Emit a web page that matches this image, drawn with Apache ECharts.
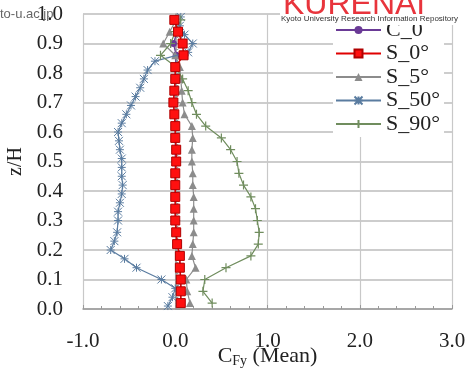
<!DOCTYPE html>
<html>
<head>
<meta charset="utf-8">
<script src="https://cdn.jsdelivr.net/npm/echarts@6/dist/echarts.min.js"></script>
<style>
  html, body { margin: 0; padding: 0; background: #fff; }
  #chart { width: 470px; height: 373px; }
</style>
</head>
<body>
<div id="chart"></div>
<script>
// Heights (z/H) shared by C_0, S_0°, S_5° and S_90° profiles
const zMain = [0.02, 0.06, 0.10, 0.14, 0.18, 0.22, 0.26, 0.30, 0.34, 0.38, 0.42, 0.46, 0.50,
               0.54, 0.58, 0.62, 0.66, 0.70, 0.74, 0.78, 0.82, 0.86, 0.90, 0.94, 0.98];
const cfyC0  = [0.06, 0.06, 0.06, 0.05, 0.05, 0.02, 0.01, 0.00, 0.00, 0.00, 0.00, 0.00, 0.00,
                0.00, 0.00, 0.00, -0.01, -0.02, -0.01, 0.00, 0.00, 0.01, -0.02, 0.02, 0.00];
const cfyS0  = [0.06, 0.06, 0.06, 0.05, 0.05, 0.02, 0.01, 0.00, 0.00, 0.00, 0.00, 0.00, 0.01,
                0.01, 0.00, 0.00, -0.01, -0.02, -0.01, 0.00, 0.00, 0.09, 0.08, 0.03, -0.01];
const cfyS5  = [0.16, 0.13, 0.12, 0.22, 0.18, 0.19, 0.20, 0.20, 0.20, 0.20, 0.19, 0.19, 0.18,
                0.18, 0.19, 0.18, 0.10, 0.08, 0.07, 0.06, 0.05, 0.00, -0.13, -0.06, 0.01];
const cfyS90 = [0.40, 0.30, 0.32, 0.55, 0.82, 0.90, 0.91, 0.89, 0.87, 0.82, 0.74, 0.69, 0.67,
                0.60, 0.50, 0.33, 0.23, 0.18, 0.14, 0.08, 0.01, -0.16, -0.05, 0.00, 0.06];
// S_50° profile is sampled more finely
const zS50   = [0.01, 0.04, 0.07, 0.10, 0.14, 0.17, 0.20, 0.23, 0.26, 0.30, 0.33, 0.36, 0.39,
                0.42, 0.45, 0.48, 0.51, 0.54, 0.57, 0.60, 0.63, 0.66, 0.69, 0.72, 0.75, 0.78,
                0.81, 0.84, 0.87, 0.90, 0.93, 0.96, 0.99];
const cfyS50 = [-0.08, -0.03, 0.00, -0.15, -0.42, -0.55, -0.70, -0.66, -0.63, -0.62, -0.62, -0.60, -0.58,
                -0.57, -0.58, -0.58, -0.58, -0.60, -0.61, -0.62, -0.58, -0.53, -0.48, -0.43, -0.38, -0.34,
                -0.30, -0.22, 0.14, 0.19, 0.10, 0.05, 0.06];

const seriesNames = ['C_0', 'S_0°', 'S_5°', 'S_50°', 'S_90°'];
const xTicks = [-1, 0, 1, 2, 3];

const pair = (xs, zs) => xs.map((v, i) => [v, zs[i]]);
const serif = 'Liberation Serif';

const starPath = 'path://M0,0L10,10M10,0L0,10M5,0L5,10M0,5L10,5';
const plusPath = 'path://M5,0L5,10M0,5L10,5';

const chart = echarts.init(document.getElementById('chart'), null, { renderer: 'canvas' });

chart.setOption({
  animation: false,
  backgroundColor: '#fff',
  grid: { left: 83, right: 18, top: 14, bottom: 64, containLabel: false, outerBoundsMode: 'none' },
  xAxis: {
    type: 'value', min: xTicks[0], max: xTicks[xTicks.length - 1], interval: 1,
    name: '{a|C}{s|Fy}{a| (Mean)}',
    nameLocation: 'middle', nameGap: 35, nameMoveOverlap: false,
    nameTextStyle: {
      rich: {
        a: { fontFamily: serif, fontSize: 22, color: '#222' },
        s: { fontFamily: serif, fontSize: 14, color: '#222', padding: [10, 0, 0, 0] }
      }
    },
    axisLine: { show: true, lineStyle: { color: '#9a9a9a', width: 1.5 } },
    axisTick: { show: true, inside: true, length: 4, lineStyle: { color: '#9a9a9a' } },
    minorTick: { show: true, splitNumber: 5, length: 3, lineStyle: { color: '#9a9a9a' } },
    splitLine: { show: true, lineStyle: { color: '#c8c8c8', width: 1.2 } },
    axisLabel: { fontFamily: serif, fontSize: 21, color: '#222', margin: 22,
                 formatter: v => v.toFixed(1) }
  },
  yAxis: {
    type: 'value', min: 0, max: 1, interval: 0.1,
    name: 'z/H', nameLocation: 'middle', nameGap: 57, nameRotate: 90, nameMoveOverlap: false,
    nameTextStyle: { fontFamily: serif, fontSize: 20, color: '#222' },
    axisLine: { show: true, lineStyle: { color: '#9a9a9a', width: 1.5 } },
    axisTick: { show: true, inside: true, length: 5, lineStyle: { color: '#9a9a9a' } },
    minorTick: { show: true, splitNumber: 5, length: 3, lineStyle: { color: '#9a9a9a' } },
    splitLine: { show: true, lineStyle: { color: '#bdbdbd', width: 1.5 } },
    axisLabel: { fontFamily: serif, fontSize: 21, color: '#222', margin: 20,
                 formatter: v => v.toFixed(1) }
  },
  legend: {
    orient: 'vertical', left: 333, top: 17,
    backgroundColor: '#fff', padding: [2, 4, 2, 2],
    itemWidth: 45, itemHeight: 10, itemGap: 1.5,
    textStyle: { fontFamily: serif, fontSize: 22, color: '#222', lineHeight: 22 },
    data: seriesNames
  },
  series: [
    {
      name: seriesNames[0], type: 'line', data: pair(cfyC0, zMain), z: 2,
      symbol: 'circle', symbolSize: 7,
      lineStyle: { color: '#6a3a96', width: 1.2 },
      itemStyle: { color: '#6a3a96' }
    },
    {
      name: seriesNames[2], type: 'line', data: pair(cfyS5, zMain), z: 3,
      symbol: 'triangle', symbolSize: 8,
      lineStyle: { color: '#8c8c8c', width: 1.2 },
      itemStyle: { color: '#8c8c8c' }
    },
    {
      name: seriesNames[3], type: 'line', data: pair(cfyS50, zS50), z: 4,
      symbol: starPath, symbolSize: 8,
      lineStyle: { color: '#5a7ca0', width: 1.2 },
      itemStyle: { color: '#5a7ca0', borderColor: '#5a7ca0', borderWidth: 1 }
    },
    {
      name: seriesNames[4], type: 'line', data: pair(cfyS90, zMain), z: 4,
      symbol: plusPath, symbolSize: 9,
      lineStyle: { color: '#708d5e', width: 1.2 },
      itemStyle: { color: '#708d5e', borderColor: '#708d5e', borderWidth: 1.2 }
    },
    {
      name: seriesNames[1], type: 'line', data: pair(cfyS0, zMain), z: 5,
      symbol: 'rect', symbolSize: 9,
      lineStyle: { color: '#e00000', width: 1.5 },
      itemStyle: { color: '#ff1010', borderColor: '#b00000', borderWidth: 1 }
    }
  ],
  graphic: [
    // repository banner in the top right corner
    { type: 'rect', left: 280, top: 0, z: 100, shape: { width: 182, height: 25 }, style: { fill: '#fff' } },
    { type: 'text', left: 283, top: -11, z: 101,
      style: { text: 'KURENAI', fill: '#e8343c', font: '32px "Liberation Sans"' } },
    { type: 'group', left: 428, top: 0, z: 101, children: [
      { type: 'rect', shape: { x: 1, y: 0, width: 2, height: 12 }, style: { fill: '#222' } },
      { type: 'rect', shape: { x: 7, y: 2, width: 2, height: 10 }, style: { fill: '#222' } },
      { type: 'rect', shape: { x: 16, y: 2, width: 2, height: 10 }, style: { fill: '#222' } },
      { type: 'rect', shape: { x: 7, y: 10, width: 11, height: 2 }, style: { fill: '#222' } },
      { type: 'rect', shape: { x: 11, y: 0, width: 2, height: 12 }, style: { fill: '#222' } },
      { type: 'rect', shape: { x: 21, y: 3, width: 9, height: 2 }, style: { fill: '#222' } },
      { type: 'rect', shape: { x: 24, y: 3, width: 2, height: 8 }, style: { fill: '#222' } },
      { type: 'rect', shape: { x: 20, y: 10, width: 11, height: 2 }, style: { fill: '#222' } }
    ] },
    { type: 'text', left: 281, top: 15, z: 101,
      style: { text: 'Kyoto University Research Information Repository', fill: '#333',
               font: '8px "Liberation Sans"' } },
    { type: 'text', left: 0, top: 8, z: 101,
      style: { text: 'to-u.ac.jp', fill: '#666', font: '13px "Liberation Sans"' } }
  ]
});
</script>
</body>
</html>
